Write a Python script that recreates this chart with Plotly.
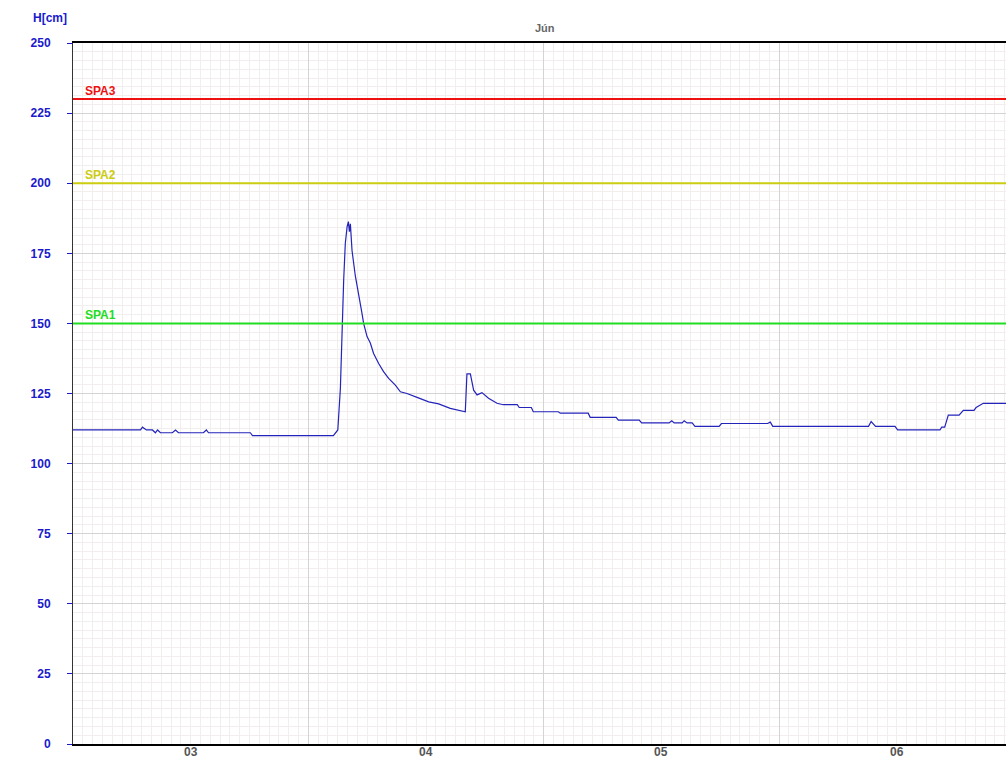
import plotly.graph_objects as go

# Water level H [cm], June 3-6
times = [
    "2024-06-03 00:00", "2024-06-03 06:53", "2024-06-03 07:05", "2024-06-03 07:29",
    "2024-06-03 08:06", "2024-06-03 08:24", "2024-06-03 08:37", "2024-06-03 08:55",
    "2024-06-03 10:08", "2024-06-03 10:27", "2024-06-03 10:45", "2024-06-03 13:18",
    "2024-06-03 13:36", "2024-06-03 13:49", "2024-06-03 18:05", "2024-06-03 18:18",
    "2024-06-04 02:33", "2024-06-04 02:45", "2024-06-04 03:00", "2024-06-04 03:16",
    "2024-06-04 03:26", "2024-06-04 03:36", "2024-06-04 03:46", "2024-06-04 03:57",
    "2024-06-04 04:05", "2024-06-04 04:11", "2024-06-04 04:17", "2024-06-04 04:27",
    "2024-06-04 04:47", "2024-06-04 05:08", "2024-06-04 05:28", "2024-06-04 05:38",
    "2024-06-04 05:59", "2024-06-04 06:19", "2024-06-04 06:39", "2024-06-04 07:10",
    "2024-06-04 07:40", "2024-06-04 08:11", "2024-06-04 08:52", "2024-06-04 09:23",
    "2024-06-04 10:03", "2024-06-04 11:05", "2024-06-04 12:16", "2024-06-04 13:17",
    "2024-06-04 14:28", "2024-06-04 16:00", "2024-06-04 16:10", "2024-06-04 16:31",
    "2024-06-04 16:51", "2024-06-04 17:12", "2024-06-04 17:42", "2024-06-04 18:22",
    "2024-06-04 19:14", "2024-06-04 19:52", "2024-06-04 21:18", "2024-06-04 21:30",
    "2024-06-04 22:44", "2024-06-04 22:56", "2024-06-05 01:29", "2024-06-05 01:41",
    "2024-06-05 04:32", "2024-06-05 04:44", "2024-06-05 07:23", "2024-06-05 07:36",
    "2024-06-05 09:44", "2024-06-05 09:59", "2024-06-05 12:47", "2024-06-05 13:03",
    "2024-06-05 13:18", "2024-06-05 14:07", "2024-06-05 14:19", "2024-06-05 14:37",
    "2024-06-05 15:08", "2024-06-05 15:25", "2024-06-05 17:53", "2024-06-05 18:07",
    "2024-06-05 22:49", "2024-06-05 23:06", "2024-06-05 23:21", "2024-06-06 09:07",
    "2024-06-06 09:23", "2024-06-06 09:50", "2024-06-06 11:49", "2024-06-06 12:05",
    "2024-06-06 16:24", "2024-06-06 16:35", "2024-06-06 16:53", "2024-06-06 17:15",
    "2024-06-06 18:21", "2024-06-06 18:47", "2024-06-06 19:52", "2024-06-06 20:05",
    "2024-06-06 20:49", "2024-06-06 23:30",
]
levels = [
    112, 112, 113, 112,
    112, 111, 112, 111,
    111, 112, 111, 111,
    112, 111, 111, 110,
    110, 111, 112, 127,
    150, 165.5, 178.6, 184.5,
    186.3, 182.7, 185.5, 176,
    167, 160.7, 153.6, 150,
    145.3, 143, 139.3, 135.7,
    132.8, 130.4, 128, 125.6,
    125, 123.6, 122, 121.3,
    119.7, 118.5, 132, 132,
    126.2, 124.5, 125.3, 123.3,
    121.5, 121, 121, 120,
    120, 118.5, 118.5, 118,
    118, 116.5, 116.5, 115.5,
    115.5, 114.5, 114.5, 115.3,
    114.5, 114.5, 115.3, 114.5,
    114.5, 113.3, 113.3, 114.3,
    114.3, 114.8, 113.3, 113.3,
    115, 113.3, 113.3, 112,
    112, 113, 113, 117.3,
    117.3, 119, 119, 120,
    121.5, 121.5,
]

threshold_names = ["SPA1", "SPA2", "SPA3"]
threshold_values = [150, 200, 230]
threshold_colors = ["#22dd22", "#cccc11", "#ee1111"]

day_labels = ["03", "04", "05", "06"]
day_centers = ["2024-06-03 12:00", "2024-06-04 12:00", "2024-06-05 12:00", "2024-06-06 12:00"]

x_range = ["2024-06-03 00:00", "2024-06-06 23:08"]
y_ticks = [0, 25, 50, 75, 100, 125, 150, 175, 200, 225, 250]
month_label = "Jún"
y_label = "H[cm]"

BLUE = "#1a1acc"
FONT = "Liberation Sans"

fig = go.Figure()
fig.add_trace(go.Scatter(
    x=times, y=levels, mode="lines",
    line=dict(color="#2424bb", width=1.2),
    showlegend=False, hoverinfo="skip",
))

shapes = []
annotations = []
for name, val, col in zip(threshold_names, threshold_values, threshold_colors):
    shapes.append(dict(type="line", xref="paper", yref="y", x0=0, x1=1, y0=val, y1=val,
                       line=dict(color=col, width=2), layer="above"))
    annotations.append(dict(text=name, xref="paper", yref="y", x=0, y=val, xshift=10, yshift=8,
                            xanchor="left", yanchor="middle", showarrow=False,
                            font=dict(family=FONT, size=12, color=col, weight="bold")))

for lab, tc in zip(day_labels, day_centers):
    annotations.append(dict(text=lab, xref="x", yref="paper", x=tc, y=0, yshift=-8,
                            xanchor="center", yanchor="middle", showarrow=False,
                            font=dict(family=FONT, size=12, color="#555555", weight="bold")))

annotations.append(dict(text=month_label, xref="paper", yref="paper", x=0.5059, y=1, yshift=15,
                        xanchor="center", yanchor="middle", showarrow=False,
                        font=dict(family=FONT, size=11, color="#666666", weight="bold")))
annotations.append(dict(text=y_label, xref="paper", yref="paper", x=0, y=1, xshift=-23, yshift=25,
                        xanchor="center", yanchor="middle", showarrow=False,
                        font=dict(family=FONT, size=12, color=BLUE, weight="bold")))

fig.update_layout(
    width=1006, height=758,
    margin=dict(l=73, r=0, t=43, b=14, autoexpand=False),
    paper_bgcolor="white", plot_bgcolor="white",
    shapes=shapes, annotations=annotations,
    xaxis=dict(
        type="date", range=x_range, automargin=False,
        dtick=86400000, tick0="2024-06-03", tickformat="%d",
        ticks="", showticklabels=False, showgrid=True, gridcolor="#d4d4d4", gridwidth=1,
        minor=dict(dtick=3600000, showgrid=True, gridcolor="#f2eeee", gridwidth=1),
        showline=True, linecolor="#000000", linewidth=2, mirror=True,
        zeroline=False, fixedrange=True,
    ),
    yaxis=dict(
        range=[0, 250], automargin=False,
        tickvals=y_ticks, ticks="outside", ticklen=5, tickcolor=BLUE, tickwidth=1,
        ticklabelstandoff=14,
        showgrid=True, gridcolor="#d4d4d4", gridwidth=1,
        minor=dict(dtick=3.125, showgrid=True, gridcolor="#f2eeee", gridwidth=1),
        showline=True, linecolor="#333333", linewidth=1,
        tickfont=dict(family=FONT, size=12, color=BLUE, weight="bold"),
        zeroline=False, fixedrange=True,
    ),
)

fig.write_html(
    "out.html",
    config={"displayModeBar": False},
    post_script="document.body.style.margin='0px';document.body.style.overflow='hidden';",
)
